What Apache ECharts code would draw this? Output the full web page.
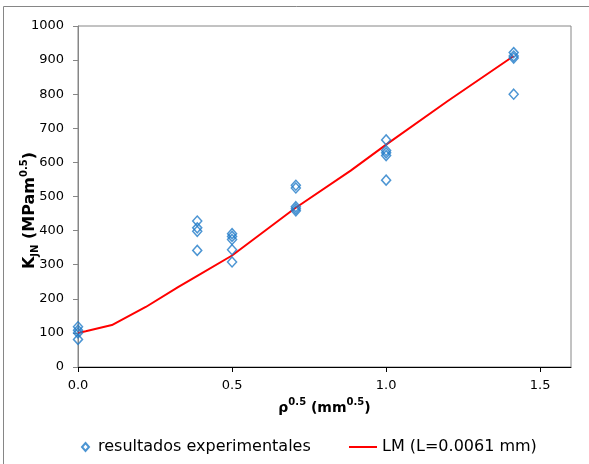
<!DOCTYPE html>
<html>
<head>
<meta charset="utf-8">
<script src="https://cdn.jsdelivr.net/npm/echarts@6/dist/echarts.min.js"></script>
<style>html,body{margin:0;padding:0;background:#fff}#c{width:589px;height:464px}</style>
</head>
<body>
<div id="c"></div>
<script>
// Experimental groups: rho^0.5 value and measured K_JN values
const groupX = [0, 0.387, 0.5, 0.707, 1.0, 1.414];
const groupK0 = [118, 108, 100, 81];
const groupK1 = [428, 408, 398, 342];
const groupK2 = [391, 383, 374, 344, 308];
const groupK3 = [533, 525, 470, 464, 458];
const groupK4 = [666, 635, 628, 620, 548];
const groupK5 = [922, 912, 906, 800];
// LM prediction curve
const lmX = [0, 0.025, 0.11, 0.22, 0.326, 0.39, 0.5, 0.702, 0.885, 1.0, 1.2, 1.414];
const lmY = [100, 105, 123, 176, 235, 269, 327, 464, 576, 652, 780, 912];
const xTicks = [0, 0.5, 1.0, 1.5];
const seriesNames = ['resultados experimentales', 'LM (L=0.0061 mm)'];

const groups = [groupK0, groupK1, groupK2, groupK3, groupK4, groupK5];
const expData = [];
groups.forEach((g, i) => g.forEach(v => expData.push([groupX[i], v])));
const lmData = lmX.map((x, i) => [x, lmY[i]]);

const FONT = 'DejaVu Sans';
const chart = echarts.init(document.getElementById('c'));
chart.setOption({
  animation: false,
  textStyle: { fontFamily: FONT },
  graphic: [{
    type: 'rect', silent: true,
    shape: { x: 3.5, y: 6.5, width: 700, height: 700 },
    style: { fill: 'none', stroke: '#868686', lineWidth: 1 }
  }],
  grid: { left: 78, right: 18, top: 26, bottom: 97, show: true, borderColor: '#868686', borderWidth: 1, containLabel: false, outerBoundsMode: 'none' },
  xAxis: {
    type: 'value', min: 0, max: 1.6,
    name: '{b|ρ}{s|0.5}{b| (mm}{s|0.5}{b|)}',
    nameLocation: 'middle', nameGap: 30, nameMoveOverlap: false,
    nameTextStyle: {
      rich: {
        b: { fontFamily: FONT, fontWeight: 'bold', fontSize: 14, color: '#000', lineHeight: 18, verticalAlign: 'bottom' },
        s: { fontFamily: FONT, fontWeight: 'bold', fontSize: 10, color: '#000', lineHeight: 18, verticalAlign: 'top' }
      }
    },
    axisLine: { lineStyle: { color: '#000', width: 1 } },
    axisTick: { length: 5, customValues: xTicks, lineStyle: { color: '#000' } },
    axisLabel: { customValues: xTicks, margin: 12, fontSize: 13, color: '#000', fontFamily: FONT, formatter: v => v.toFixed(1) },
    splitLine: { show: false }
  },
  yAxis: {
    type: 'value', min: 0, max: 1000, interval: 100,
    name: '{b|K}{sub|JN}{b| (MPam}{s|0.5}{b|)}',
    nameLocation: 'middle', nameGap: 38, nameMoveOverlap: false,
    nameTextStyle: {
      padding: [0, 28, 0, 0],
      rich: {
        b: { fontFamily: FONT, fontWeight: 'bold', fontSize: 16, color: '#000', lineHeight: 21, verticalAlign: 'middle' },
        sub: { fontFamily: FONT, fontWeight: 'bold', fontSize: 10, color: '#000', lineHeight: 21, verticalAlign: 'bottom' },
        s: { fontFamily: FONT, fontWeight: 'bold', fontSize: 10, color: '#000', lineHeight: 21, verticalAlign: 'top' }
      }
    },
    axisLine: { show: true, lineStyle: { color: '#868686', width: 1 } },
    axisTick: { show: true, length: 5, lineStyle: { color: '#868686' } },
    axisLabel: { margin: 14, fontSize: 13, color: '#000', fontFamily: FONT, formatter: v => String(v) },
    splitLine: { show: false }
  },
  legend: [{
    data: [seriesNames[0]], left: 76, top: 434,
    itemWidth: 7, itemHeight: 8,
    textStyle: { fontSize: 16, color: '#000', fontFamily: FONT, padding: [0, 0, 0, 4] }
  }, {
    data: [{ name: seriesNames[1], icon: 'rect' }], left: 344, top: 434,
    itemWidth: 28, itemHeight: 2,
    itemStyle: { color: '#FF0000' },
    textStyle: { fontSize: 16, color: '#000', fontFamily: FONT }
  }],
  series: [{
    name: seriesNames[0], type: 'scatter', data: expData,
    symbol: 'diamond', symbolSize: [9, 10],
    itemStyle: { color: 'rgba(255,255,255,0)', borderColor: '#1F7BC8', borderWidth: 1.5 },
    z: 3
  }, {
    name: seriesNames[1], type: 'line', data: lmData,
    showSymbol: false, symbol: 'none',
    lineStyle: { color: '#FF0000', width: 2 },
    itemStyle: { color: '#FF0000' },
    z: 2
  }]
});
</script>
</body>
</html>
